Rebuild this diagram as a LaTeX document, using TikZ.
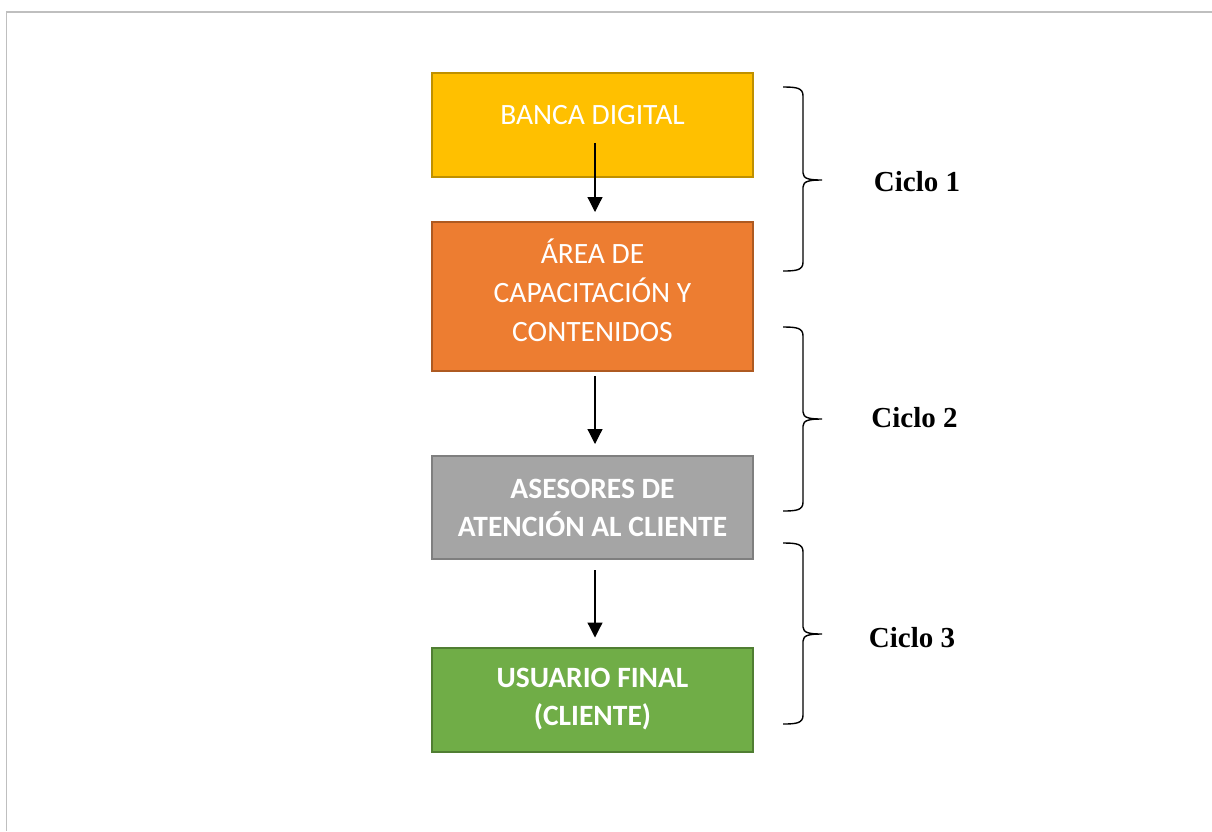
\documentclass[tikz,border=0pt]{standalone}
\usepackage{fontspec}
\newfontfamily\calib{Carlito}
\newfontfamily\tnr{Liberation Serif}
\usetikzlibrary{arrows.meta}
\definecolor{yelF}{HTML}{FFC000}
\definecolor{yelD}{HTML}{BF9000}
\definecolor{orgF}{HTML}{ED7D31}
\definecolor{orgD}{HTML}{AE5A21}
\definecolor{gryF}{HTML}{A5A5A5}
\definecolor{gryD}{HTML}{7F7F7F}
\definecolor{grnF}{HTML}{70AD47}
\definecolor{grnD}{HTML}{507E32}
\definecolor{frameC}{HTML}{BFBFBF}
\newcommand\mybrace[3]{%
  \draw[bracestyle] (783,#1) .. controls (797,#1) and (803,{#1+1}) .. (803,{#1+9})
    -- (803,{#2-7}) .. controls (803,{#2-1}) and (810,#2) .. (822,#2)
    .. controls (810,#2) and (803,{#2+1}) .. (803,{#2+7})
    -- (803,{#3-9}) .. controls (803,{#3-1}) and (797,#3) .. (783,#3);}
\tikzset{
  box/.style={draw, line width=2pt, minimum width=321pt, inner sep=0pt, outer sep=0pt,
    text=white, align=center, font=\calib\fontsize{29.5}{39}\selectfont},
  boldbox/.style={box, font=\calib\bfseries\fontsize{29.5}{38}\selectfont},
  txt/.style={text=white, inner sep=0pt, align=center, font=\calib\fontsize{29.5}{39}\selectfont},
  arr/.style={line width=1.2pt, -{Triangle[width=15pt,length=15pt]}},
  bracestyle/.style={line width=1.4pt, black},
  ciclo/.style={inner sep=0pt, font=\tnr\bfseries\fontsize{29}{34}\selectfont}
}
\begin{document}
\begin{tikzpicture}[x=1pt,y=-1pt]
\useasboundingbox (0,0) rectangle (1212,831);
% frame
\draw[frameC, line width=2pt] (6,12) -- (1212,12);
\draw[frameC, line width=1.5pt] (6.5,12) -- (6.5,831);
% boxes
\node[box, fill=yelF, draw=yelD, minimum height=104pt] (b1) at (592.5,125) {};
\node[txt] (t1) at (592.5,115) {BANCA DIGITAL};
\node[box, fill=orgF, draw=orgD, minimum height=149pt] (b2) at (592.5,296.5) {};
\node[txt] (t2) at (592.5,290.5) {ÁREA DE\\CAPACITACIÓN Y\\CONTENIDOS};
\node[boldbox, fill=gryF, draw=gryD, minimum height=103pt] (b3) at (592.5,507.5)
  {ASESORES DE\\ATENCIÓN AL CLIENTE};
\node[boldbox, fill=grnF, draw=grnD, minimum height=104pt] (b4) at (592.5,699.5)
  {USUARIO FINAL\\(CLIENTE)};
% arrows
\draw[arr] ([xshift=2.5pt,yshift=34pt]b1.south) -- ([xshift=2.5pt,yshift=10pt]b2.north);
\draw[arr] ([xshift=2.5pt,yshift=-5pt]b2.south) -- ([xshift=2.5pt,yshift=12pt]b3.north);
\draw[arr] ([xshift=2.5pt,yshift=-11pt]b3.south) -- ([xshift=2.5pt,yshift=10pt]b4.north);
% braces
\mybrace{87}{180}{271}
\mybrace{327}{419}{511}
\mybrace{543}{634}{724}
% labels
\node[ciclo] (c1) at (917,182) {Ciclo 1};
\node[ciclo] (c2) at (914.5,418) {Ciclo 2};
\node[ciclo] (c3) at (912,638) {Ciclo 3};
\end{tikzpicture}
\end{document}
